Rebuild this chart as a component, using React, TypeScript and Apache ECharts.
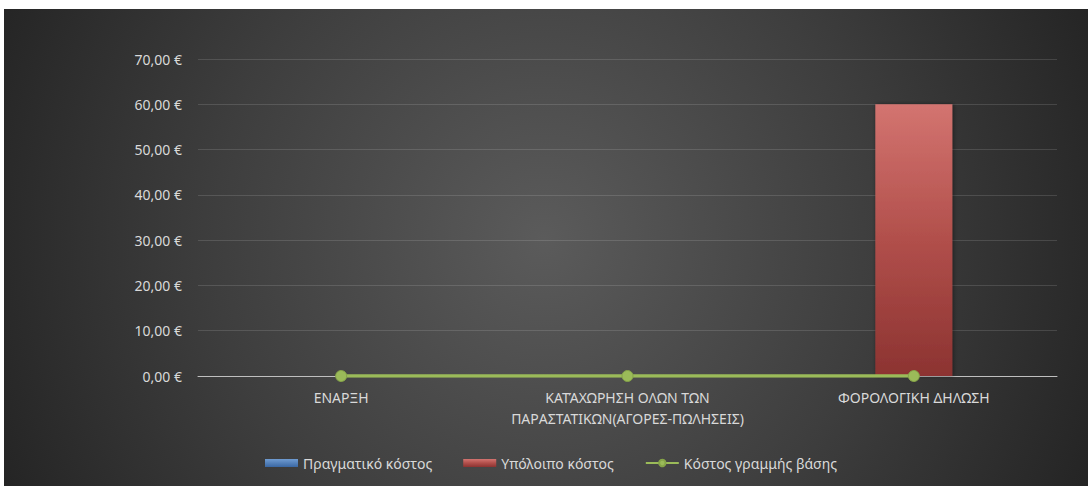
import React, { useEffect, useRef } from "react";
import * as echarts from "echarts";

const categories = [
  "ΕΝΑΡΞΗ",
  "ΚΑΤΆΧΩΡΗΣΗ ΟΛΩΝ ΤΩΝ ΠΑΡΑΣΤΑΤΙΚΩΝ(ΑΓΟΡΕΣ-ΠΩΛΗΣΕΙΣ)",
  "ΦΟΡΟΛΟΓΙΚΗ ΔΗΛΩΣΗ",
];
const actualCost = [0, 0, 0];
const remainingCost = [0, 0, 60];
const baselineCost = [0, 0, 0];

const seriesNames = ["Πραγματικό κόστος", "Υπόλοιπο κόστος", "Κόστος γραμμής βάσης"];

const FONT = "'Noto Sans', 'Open Sans', sans-serif";

const formatEuro = (v: number) => v.toFixed(2).replace(".", ",") + " €";

// Long category names wrap after their third word.
const wrapLabel = (s: string) => {
  const words = s.split(" ");
  if (words.length <= 3) return s;
  return words.slice(0, 3).join(" ") + "\n" + words.slice(3).join(" ");
};

export default function App() {
  const ref = useRef<HTMLDivElement>(null);

  useEffect(() => {
    if (!ref.current) return;
    const chart = echarts.init(ref.current, null, { renderer: "svg" });
    chart.setOption({
      animation: false,
      backgroundColor: new echarts.graphic.RadialGradient(
        540,
        230,
        600,
        [
          { offset: 0, color: "#5b5b5b" },
          { offset: 0.55, color: "#3e3e3e" },
          { offset: 1, color: "#242424" },
        ],
        true
      ),
      textStyle: { fontFamily: FONT },
      grid: { left: 194, right: 31, top: 50, bottom: 110, containLabel: false },
      legend: {
        bottom: 11,
        left: 256,
        itemWidth: 33,
        itemHeight: 8,
        itemGap: 31,
        textStyle: { color: "#d9d9d9", fontSize: 14, fontFamily: FONT },
        data: [
          { name: seriesNames[0], icon: "rect" },
          { name: seriesNames[1], icon: "rect" },
          { name: seriesNames[2] },
        ],
      },
      xAxis: {
        type: "category",
        data: categories,
        axisLine: { lineStyle: { color: "#bfbfbf", width: 1 } },
        axisTick: { show: false },
        axisLabel: {
          interval: 0,
          color: "#d9d9d9",
          fontSize: 14,
          fontFamily: FONT,
          margin: 11,
          lineHeight: 21,
          formatter: (v: string) => wrapLabel(v),
        },
      },
      yAxis: {
        type: "value",
        min: 0,
        max: 70,
        interval: 10,
        axisLine: { show: false },
        axisTick: { show: false },
        splitLine: { lineStyle: { color: "rgba(255,255,255,0.13)", width: 1 } },
        axisLabel: {
          color: "#d9d9d9",
          fontSize: 14,
          fontFamily: FONT,
          margin: 16,
          formatter: (v: number) => formatEuro(v),
        },
      },
      series: [
        {
          name: seriesNames[0],
          type: "bar",
          stack: "cost",
          barWidth: 77,
          data: actualCost,
          itemStyle: {
            color: new echarts.graphic.LinearGradient(0, 0, 0, 1, [
              { offset: 0, color: "#6f9bd1" },
              { offset: 1, color: "#3a67a3" },
            ]),
          },
        },
        {
          name: seriesNames[1],
          type: "bar",
          stack: "cost",
          barWidth: 77,
          data: remainingCost,
          itemStyle: {
            color: new echarts.graphic.LinearGradient(0, 0, 0, 1, [
              { offset: 0, color: "#d37470" },
              { offset: 0.5, color: "#b14f4b" },
              { offset: 1, color: "#8c3331" },
            ]),
            shadowColor: "rgba(0,0,0,0.45)",
            shadowBlur: 4,
            shadowOffsetX: 1,
          },
        },
        {
          name: seriesNames[2],
          type: "line",
          data: baselineCost,
          symbol: "circle",
          symbolSize: 11,
          z: 5,
          lineStyle: { color: "#9bbb59", width: 3.5 },
          itemStyle: {
            color: "#9bbb59",
            borderColor: "#86a548",
            borderWidth: 1,
          },
        },
      ],
    });
    return () => chart.dispose();
  }, []);

  return (
    <div
      ref={ref}
      style={{ position: "absolute", left: 4, top: 9, width: 1084, height: 477 }}
    />
  );
}
